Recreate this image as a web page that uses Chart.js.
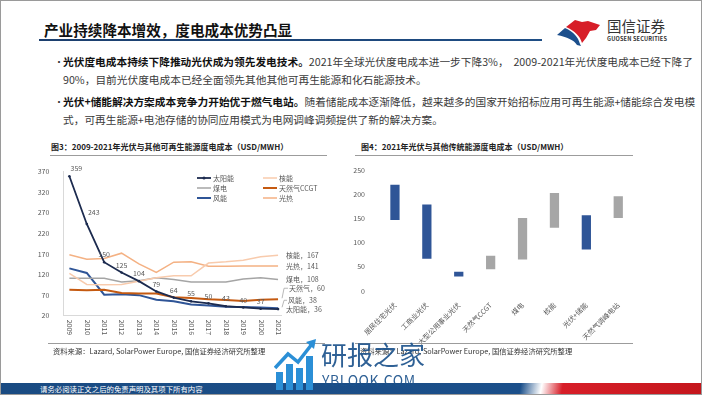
<!DOCTYPE html>
<html>
<head>
<meta charset="utf-8">
<script src="https://cdn.jsdelivr.net/npm/chart.js@4.4.0/dist/chart.umd.min.js"></script>
<style>
  html, body { margin: 0; padding: 0; background: #fff; }
  #slide { position: relative; width: 702px; height: 395px; overflow: hidden;
    font-family: "Noto Sans CJK SC", "Noto Sans", sans-serif; color: #333; }
  .abs { position: absolute; white-space: nowrap; }
  #frame { position: absolute; left: 0; top: 0; width: 702px; height: 395px; box-sizing: border-box;
    border: 1.5px solid #9a9a9a; pointer-events: none; }
  #title { left: 44px; top: 20px; font-size: 14.6px; font-weight: bold; color: #111; line-height: 20px; }
  #titleLine { left: 39px; top: 38.5px; width: 503px; height: 2px;
    background: linear-gradient(90deg, #1c3f6e, #1f4e85); }
  .line { left: 63px; font-size: 10.7px; line-height: 14px; color: #3a3a3a; }
  .line b { color: #111; }
  .just { width: 597px; text-align: justify; text-align-last: justify; }
  .dot { left: 54px; font-size: 10px; line-height: 14px; color: #333; }
  .ctitle { font-size: 8px; font-weight: bold; color: #222; line-height: 10px; }
  .hr { position: absolute; height: 1px; background: #9c9c9c; }
  .src { font-size: 7.3px; color: #333; line-height: 10px; }
  #footer { left: 0; top: 383px; width: 702px; height: 12px;
    background: linear-gradient(100deg, #1a4b82 0%, #1b4f8a 74%, #ffffff 77%, #d71e28 80%, #c4161c 100%); }
  #footText { left: 40px; top: 383px; font-size: 7.4px; line-height: 12px; color: #fff; }
  canvas { position: absolute; }
</style>
</head>
<body>
<div id="slide">
  <div class="abs" id="title">产业持续降本增效，度电成本优势凸显</div>
  <div class="abs" id="titleLine"></div>

  <svg class="abs" style="left:557px;top:18px" width="44" height="28" viewBox="0 0 44 28">
    <path d="M9,9 L18,2 L25,4 L31,3 L43,7 L39,12 L33,13 L29,20 L25,25 C23,18 18,13 9,9 Z" fill="#d71e28"/>
    <path d="M0,17 L8,10 C17,14 21,19 23,26 L24,28 L20,27 C17,22 10,19 0,17 Z" fill="#1c4f8c"/>
  </svg>
  <div class="abs" style="left:607px;top:16px;font-size:14.5px;line-height:20px;color:#333;">国信证券</div>
  <div class="abs" style="left:607px;top:36px;font-size:5.6px;line-height:7px;font-weight:bold;color:#333;letter-spacing:0.15px;">GUOSEN SECURITIES</div>

  <div class="abs dot" style="top:54.7px">•</div>
  <div class="abs line just" style="top:54.7px"><b>光伏度电成本持续下降推动光伏成为领先发电技术。</b>2021年全球光伏度电成本进一步下降3%，&nbsp;&nbsp;2009-2021年光伏度电成本已经下降了</div>
  <div class="abs line" style="top:73px">90%，目前光伏度电成本已经全面领先其他其他可再生能源和化石能源技术。</div>
  <div class="abs dot" style="top:94.7px">•</div>
  <div class="abs line just" style="top:94.7px"><b>光伏+储能解决方案成本竞争力开始优于燃气电站。</b>随着储能成本逐渐降低，越来越多的国家开始招标应用可再生能源+储能综合发电模</div>
  <div class="abs line" style="top:113px">式，可再生能源+电池存储的协同应用模式为电网调峰调频提供了新的解决方案。</div>

  <div class="abs ctitle" style="left:51px;top:142px">图3：2009-2021年光伏与其他可再生能源度电成本（USD/MWH）</div>
  <div class="hr" style="left:50px;top:154.5px;width:277px"></div>
  <div class="abs ctitle" style="left:361px;top:142px">图4：2021年光伏与其他传统能源度电成本（USD/MWH）</div>
  <div class="hr" style="left:355px;top:154.5px;width:278px"></div>

  <canvas id="lcoeTrend" style="left:30px;top:160px" width="300" height="185"></canvas>
  <canvas id="lcoeRange" style="left:340px;top:160px" width="310" height="190"></canvas>

  <div class="hr" style="left:48px;top:342.5px;width:277px"></div>
  <div class="abs src" style="left:53px;top:346px">资料来源：Lazard, SolarPower Europe, 国信证券经济研究所整理</div>
  <div class="hr" style="left:355px;top:342.5px;width:278px"></div>
  <div class="abs src" style="left:360px;top:346px">资料来源：Lazard, SolarPower Europe, 国信证券经济研究所整理</div>

  <div class="abs" id="footer"></div>
  <div class="abs" id="footText">请务必阅读正文之后的免责声明及其项下所有内容</div>

  <svg class="abs" style="left:274px;top:338px" width="46" height="52" viewBox="0 0 46 52">
    <rect x="2" y="34" width="7" height="18" fill="#2b8fd6"/>
    <rect x="12" y="26" width="7" height="26" fill="#2b8fd6"/>
    <rect x="22" y="30" width="7" height="22" fill="#2b8fd6"/>
    <rect x="32" y="18" width="7" height="34" fill="#2b8fd6"/>
    <path d="M1,30 L14,16 L24,24 L38,6" stroke="#2b8fd6" stroke-width="3.5" fill="none"/>
    <path d="M32,4 L42,1 L40,11 Z" fill="#2b8fd6"/>
  </svg>
  <div class="abs" style="left:321px;top:338px;font-size:26px;line-height:32px;color:rgba(28,82,140,0.92);">研报之家</div>
  <div class="abs" style="left:322px;top:372px;font-size:14px;line-height:16px;color:rgba(28,82,140,0.92);letter-spacing:0.6px;">YBLOOK.COM</div>

  <div id="frame"></div>
</div>

<script>
// 图3 数据
const years = [2009, 2010, 2011, 2012, 2013, 2014, 2015, 2016, 2017, 2018, 2019, 2020, 2021];
const solarPV = [359, 243, 150, 125, 104, 79, 64, 55, 50, 43, 40, 37, 36];
const nuclear = [123, 96, 95, 96, 104, 112, 117, 117, 148, 151, 155, 163, 167];
const coal = [111, 111, 111, 102, 105, 112, 108, 102, 102, 102, 109, 112, 108];
const gasCCGT = [83, 82, 83, 75, 74, 74, 65, 63, 60, 58, 56, 59, 60];
const wind = [135, 124, 71, 72, 70, 59, 55, 47, 45, 42, 41, 40, 38];
const solarThermal = [168, 157, 159, 172, 146, 125, 150, 151, 140, 140, 141, 141, 141];
const trendTicks = [20, 70, 120, 170, 220, 270, 320, 370];

// 图4 数据
const techs = ['居民住宅光伏', '工商业光伏', '大型公用事业光伏', '天然气CCGT', '煤电', '核能', '光伏+储能', '天然气调峰电站'];
const costLow = [147, 67, 30, 45, 65, 131, 86, 151];
const costHigh = [220, 179, 40, 73, 151, 203, 157, 196];
const pvTechs = ['居民住宅光伏', '工商业光伏', '大型公用事业光伏', '光伏+储能'];

const tickGray = '#595959';
const axisGray = '#d9d9d9';
const font7 = '7px "Noto Sans CJK SC", "Noto Sans", sans-serif';

const toPoints = arr => arr.map((v, i) => ({ x: years[i], y: v }));

const trendSeries = [
  { label: '太阳能', short: '太阳能', data: solarPV, color: '#1c2b4f', width: 1.8, dot: true },
  { label: '核能', short: '核能', data: nuclear, color: '#f8cbad', width: 1.5 },
  { label: '煤电', short: '煤电', data: coal, color: '#a5a5a5', width: 1.5 },
  { label: '天然气CCGT', short: '天然气', data: gasCCGT, color: '#c55a11', width: 2 },
  { label: '风能', short: '风能', data: wind, color: '#2f5597', width: 2 },
  { label: '光热', short: '光热', data: solarThermal, color: '#f4b183', width: 1.5 },
];

// where the right-hand labels sit relative to the last point
const endLabelShift = { '天然气': [11, -11], '风能': [10, -8] };
const legendOrder = [[0, 2, 4], [1, 3, 5]];

const trendOverlay = {
  id: 'trendOverlay',
  afterDatasetsDraw(chart) {
    const { ctx, chartArea } = chart;
    const xs = chart.scales.x;
    const ys = chart.scales.y;
    ctx.save();
    ctx.font = font7;
    ctx.fillStyle = tickGray;

    // year labels, turned clockwise
    years.forEach(yr => {
      ctx.save();
      ctx.translate(xs.getPixelForValue(yr) + 0.5, chartArea.bottom + 4);
      ctx.rotate(Math.PI / 2);
      ctx.textAlign = 'left';
      ctx.textBaseline = 'middle';
      ctx.fillText(String(yr), 0, 0);
      ctx.restore();
    });

    // solar value labels
    ctx.textAlign = 'center';
    ctx.textBaseline = 'bottom';
    solarPV.forEach((v, i) => {
      if (i === solarPV.length - 1) return;
      const px = xs.getPixelForValue(years[i]);
      const py = ys.getPixelForValue(v);
      const dx = i < 2 ? 7 : 0;
      const dy = i === 1 ? 8 : 4;
      ctx.fillText(String(v), px + dx, py - dy);
    });

    // right-hand series labels
    ctx.textAlign = 'left';
    ctx.textBaseline = 'middle';
    const last = years.length - 1;
    trendSeries.forEach(s => {
      const px = xs.getPixelForValue(years[last]);
      const py = ys.getPixelForValue(s.data[last]);
      const shift = endLabelShift[s.short];
      if (shift) {
        ctx.strokeStyle = '#a6a6a6';
        ctx.lineWidth = 0.8;
        ctx.beginPath();
        ctx.moveTo(px + 4, py - 1);
        ctx.lineTo(px + 6, py + shift[1]);
        ctx.lineTo(px + shift[0] - 1, py + shift[1]);
        ctx.stroke();
        ctx.fillText(s.short + '，' + s.data[last], px + shift[0], py + shift[1]);
      } else {
        ctx.fillText(s.short + '，' + s.data[last], px + 8, py);
      }
    });

    // legend, two columns inside the plot
    const colX = [167, 233];
    const rowY = [18, 28, 38];
    legendOrder.forEach((col, c) => {
      col.forEach((idx, r) => {
        const s = trendSeries[idx];
        const lx = colX[c];
        const ly = rowY[r];
        ctx.strokeStyle = s.color;
        ctx.lineWidth = s.width;
        ctx.beginPath();
        ctx.moveTo(lx, ly);
        ctx.lineTo(lx + 14, ly);
        ctx.stroke();
        if (s.dot) {
          ctx.fillStyle = s.color;
          ctx.beginPath();
          ctx.arc(lx + 7, ly, 1.5, 0, Math.PI * 2);
          ctx.fill();
        }
        ctx.fillStyle = tickGray;
        ctx.fillText(s.label, lx + 16, ly);
      });
    });
    ctx.restore();
  },
};

new Chart(document.getElementById('lcoeTrend'), {
  type: 'line',
  data: {
    datasets: trendSeries.map(s => ({
      label: s.label,
      data: toPoints(s.data),
      borderColor: s.color,
      backgroundColor: s.color,
      borderWidth: s.width,
      pointRadius: s.dot ? 1.3 : 0,
      pointBorderWidth: 0,
      tension: 0,
    })),
  },
  options: {
    responsive: false,
    animation: false,
    layout: { padding: { top: 11.7, right: 48.3, bottom: 0, left: 0 } },
    plugins: { legend: { display: false }, tooltip: { enabled: false } },
    scales: {
      x: {
        type: 'linear',
        min: 2008.65,
        max: 2021.21,
        grid: { display: false },
        border: { color: axisGray },
        ticks: { display: false },
        afterFit(scale) { scale.height = 29.3; },
      },
      y: {
        min: 20,
        max: 370,
        grid: { display: false },
        border: { color: axisGray },
        afterBuildTicks(scale) { scale.ticks = trendTicks.map(v => ({ value: v })); },
        ticks: { font: { size: 7, family: '"Noto Sans CJK SC", "Noto Sans", sans-serif' }, color: tickGray, padding: 6 },
        afterFit(scale) { scale.width = 33.3; },
      },
    },
  },
  plugins: [trendOverlay],
});

new Chart(document.getElementById('lcoeRange'), {
  type: 'bar',
  data: {
    labels: techs,
    datasets: [{
      data: costLow.map((lo, i) => [lo, costHigh[i]]),
      backgroundColor: ctx => (pvTechs.includes(techs[ctx.dataIndex]) ? '#2f5597' : '#a6a6a6'),
      borderWidth: 0,
      categoryPercentage: 1,
      barPercentage: 0.29,
    }],
  },
  options: {
    responsive: false,
    animation: false,
    layout: { padding: { top: 5, right: 15.8, bottom: 0, left: 0 } },
    plugins: { legend: { display: false }, tooltip: { enabled: false } },
    scales: {
      x: {
        grid: { display: false },
        border: { display: false },
        ticks: {
          autoSkip: false,
          minRotation: 45,
          maxRotation: 45,
          padding: 2,
          font: { size: 7, family: '"Noto Sans CJK SC", "Noto Sans", sans-serif' },
          color: tickGray,
        },
        afterFit(scale) { scale.height = 59; },
      },
      y: {
        min: 0,
        max: 250,
        grid: { display: false },
        border: { display: false },
        ticks: { stepSize: 50, padding: 6, font: { size: 7, family: '"Noto Sans CJK SC", "Noto Sans", sans-serif' }, color: tickGray },
        afterFit(scale) { scale.width = 39; },
      },
    },
  },
});
</script>
</body>
</html>
